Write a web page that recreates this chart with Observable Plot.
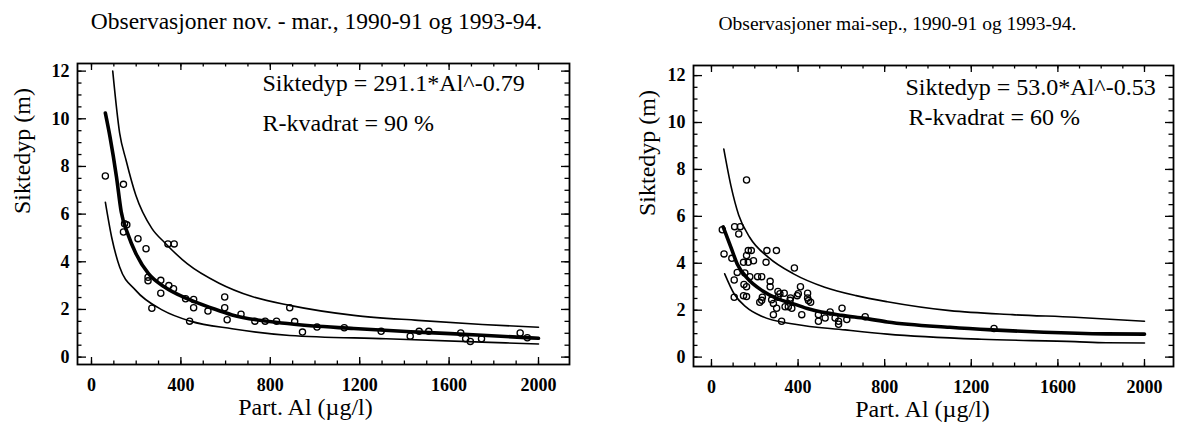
<!DOCTYPE html>
<html><head><meta charset="utf-8">
<script src="https://cdn.jsdelivr.net/npm/d3@7"></script>
<script src="https://cdn.jsdelivr.net/npm/@observablehq/plot@0.6"></script>
<style>
body{margin:0;background:#fff;}
#wrap{position:relative;width:1201px;height:427px;overflow:hidden;background:#fff;}
.panel{position:absolute;top:0;}
g[aria-label="x-axis tick label"] text, g[aria-label="y-axis tick label"] text{font-weight:bold;}
</style></head><body><div id="wrap"></div>
<script>
// ---------- data ----------
const xTicks = [0, 400, 800, 1200, 1600, 2000];
const yTicks = [0, 2, 4, 6, 8, 10, 12];
const xMinorTicks = d3.range(0, 2001, 100);
const yMinorTicks = d3.range(0, 12.01, 0.5);

const winterTitle = "Observasjoner nov. - mar., 1990-91 og 1993-94.";
const winterEquation = "Siktedyp = 291.1*Al^-0.79";
const winterR2 = "R-kvadrat = 90 %";
const winterPoints = [
  [62,7.6],[143,7.25],[148,5.6],[158,5.55],[143,5.25],[208,4.97],[244,4.55],[342,4.75],[370,4.75],
  [253,3.35],[253,3.2],[310,3.22],[310,2.68],[346,3.0],[367,2.87],[421,2.45],[457,2.42],[457,2.07],
  [270,2.05],[439,1.51],[521,1.93],[596,2.52],[596,2.07],[607,1.57],[669,1.8],[731,1.51],[777,1.51],
  [828,1.51],[887,2.07],[909,1.49],[944,1.05],[1009,1.26],[1131,1.23],[1296,1.08],[1426,0.88],
  [1466,1.08],[1509,1.08],[1652,1.01],[1674,0.77],[1695,0.66],[1745,0.77],[1918,1.01],[1950,0.81]
];
const winterFit = [
  [62,10.24],[83,9.23],[112,7.55],[133,6.1],[162,5.18],[198,4.36],[255,3.5],[327,2.94],[428,2.45],
  [543,2.04],[629,1.77],[887,1.40],[1174,1.2],[1461,1.05],[1748,0.92],[2000,0.79]
];
const winterUpper = [
  [95,12.0],[126,9.4],[155,8.25],[198,6.8],[270,5.4],[330,4.78],[428,3.92],[571,3.1],[715,2.55],
  [887,2.17],[1174,1.75],[1461,1.54],[1748,1.37],[2000,1.25]
];
const winterLower = [
  [62,6.5],[90,5.04],[126,3.78],[198,2.8],[320,1.96],[442,1.51],[629,1.19],[887,0.91],[1318,0.77],
  [1748,0.63],[2000,0.55]
];

const summerTitle = "Observasjoner mai-sep., 1990-91 og 1993-94.";
const summerEquation = "Siktedyp = 53.0*Al^-0.53";
const summerR2 = "R-kvadrat = 60 %";
const summerPoints = [
  [162,7.55],[50,5.43],[107,5.56],[133,5.56],[126,5.25],
  [58,4.4],[94,4.21],[170,4.54],[184,4.54],[256,4.54],[300,4.54],[162,4.33],[194,4.11],[252,4.04],[148,4.04],[170,4.04],
  [383,3.8],[119,3.61],[154,3.59],[105,3.29],[177,3.43],[213,3.43],[232,3.43],[271,3.23],[271,3.0],[150,3.1],[162,3.0],[411,3.0],
  [307,2.8],[336,2.72],[444,2.72],[396,2.62],[444,2.52],[448,2.41],[458,2.34],[105,2.55],[148,2.62],[162,2.58],[235,2.55],
  [278,2.44],[223,2.34],[307,2.55],[365,2.52],[232,2.42],[316,2.7],[363,2.42],[401,2.7],
  [286,2.29],[286,1.81],[301,2.08],[324,1.53],[340,2.15],[355,2.15],[371,2.08],[417,1.81],
  [494,1.81],[494,1.53],[525,1.67],[548,1.92],[571,1.67],[587,1.53],[587,1.4],[603,2.08],[625,1.6],[710,1.72],[1305,1.22]
];
const summerFit = [
  [54,5.55],[90,4.68],[119,3.97],[162,3.4],[235,2.83],[307,2.48],[379,2.27],[451,2.05],[600,1.78],
  [710,1.65],[812,1.5],[1101,1.27],[1296,1.16],[1535,1.06],[1823,0.99],[2000,0.98]
];
const summerUpper = [
  [57,8.87],[90,7.3],[126,6.05],[177,5.1],[263,4.25],[379,3.55],[523,2.98],[668,2.62],[812,2.36],
  [1101,1.98],[1390,1.81],[1679,1.70],[2000,1.53]
];
const summerLower = [
  [61,3.55],[105,2.69],[162,2.12],[232,1.74],[386,1.40],[618,1.16],[812,0.98],[1246,0.76],[1679,0.66],
  [1823,0.61],[2000,0.6]
];

const xLabel = "Part. Al (µg/l)";
const yLabel = "Siktedyp (m)";

// ---------- drawing ----------
const FONT = "'Liberation Serif','Times New Roman',serif";

function panel(cfg) {
  const {width, height, mL, mR, mT, mB} = cfg;
  const iw = width - mL - mR, ih = height - mT - mB;
  const X = d => d[0], Y = d => d[1];
  const tickStyle = {stroke: "#000", strokeWidth: 1.3};
  return Plot.plot({
    width, height,
    marginLeft: mL, marginRight: mR, marginTop: mT, marginBottom: mB,
    style: {fontFamily: FONT, fontSize: "18px", color: "#000", background: "transparent", overflow: "visible"},
    x: {domain: cfg.xDomain, ticks: xTicks, tickSize: 0, tickPadding: 14, tickFormat: d => String(d), label: null},
    y: {domain: cfg.yDomain, ticks: yTicks, tickSize: 0, tickPadding: 8, tickFormat: d => String(d), label: null},
    marks: [
      Plot.frame({stroke: "#000", strokeWidth: 1.8}),
      // inward ticks, all four sides
      Plot.ruleX(xTicks, {...tickStyle, insetTop: ih - 7}),
      Plot.ruleX(xTicks, {...tickStyle, insetBottom: ih - 7}),
      Plot.ruleX(xMinorTicks, {...tickStyle, insetTop: ih - 3.5}),
      Plot.ruleX(xMinorTicks, {...tickStyle, insetBottom: ih - 3.5}),
      Plot.ruleY(yTicks, {...tickStyle, insetRight: iw - 9}),
      Plot.ruleY(yTicks, {...tickStyle, insetLeft: iw - 8}),
      Plot.ruleY(yMinorTicks, {...tickStyle, insetRight: iw - 4.5}),
      Plot.ruleY(yMinorTicks, {...tickStyle, insetLeft: iw - 4.5}),
      Plot.line(cfg.upper, {x: X, y: Y, stroke: "#000", strokeWidth: 1.6, curve: "monotone-x"}),
      Plot.line(cfg.lower, {x: X, y: Y, stroke: "#000", strokeWidth: 1.6, curve: "monotone-x"}),
      Plot.line(cfg.fit, {x: X, y: Y, stroke: "#000", strokeWidth: 3.6, curve: "monotone-x"}),
      Plot.dot(cfg.points, {x: X, y: Y, r: 3.1, stroke: "#000", strokeWidth: 1.3, fill: "none"}),
      Plot.text([cfg.equation], {frameAnchor: "top-left", textAnchor: "start", dx: cfg.eqDx, dy: cfg.eqDy, fontSize: 24, fill: "#000"}),
      Plot.text([cfg.r2], {frameAnchor: "top-left", textAnchor: "start", dx: cfg.r2Dx, dy: cfg.r2Dy, fontSize: 24, fill: "#000"}),
      Plot.text([cfg.title], {frameAnchor: "top", dx: cfg.titleDx, dy: cfg.titleDy, fontSize: cfg.titleSize, fill: "#000"}),
      Plot.text([xLabel], {frameAnchor: "bottom", dx: cfg.xLabelDx, dy: 50, fontSize: 24, fill: "#000"}),
      Plot.text([yLabel], {frameAnchor: "left", dx: cfg.yLabelDx, rotate: -90, fontSize: 24, fill: "#000"})
    ]
  });
}

const wrap = document.getElementById("wrap");

const left = panel({
  width: 600, height: 427, mL: 77, mR: 31, mT: 63, mB: 63,
  xDomain: [-62.6, 2138.7], yDomain: [-0.31, 12.32],
  points: winterPoints, fit: winterFit, upper: winterUpper, lower: winterLower,
  equation: winterEquation, r2: winterR2,
  eqDx: 185, eqDy: 10, r2Dx: 185, r2Dy: 50,
  title: winterTitle, titleSize: 23.5, titleDx: -7, titleDy: -51,
  xLabelDx: -18, yLabelDx: -55
});
const right = panel({
  width: 601, height: 427, mL: 93, mR: 28, mT: 65, mB: 61,
  xDomain: [-83, 2134], yDomain: [-0.40, 12.43],
  points: summerPoints, fit: summerFit, upper: summerUpper, lower: summerLower,
  equation: summerEquation, r2: summerR2,
  eqDx: 212, eqDy: 12, r2Dx: 215, r2Dy: 42,
  title: summerTitle, titleSize: 19.5, titleDx: -36, titleDy: -49,
  xLabelDx: -11, yLabelDx: -46
});
const d1 = document.createElement("div"); d1.className = "panel"; d1.style.left = "0px"; d1.appendChild(left);
const d2 = document.createElement("div"); d2.className = "panel"; d2.style.left = "600px"; d2.appendChild(right);
wrap.appendChild(d1); wrap.appendChild(d2);
</script>
</body></html>
